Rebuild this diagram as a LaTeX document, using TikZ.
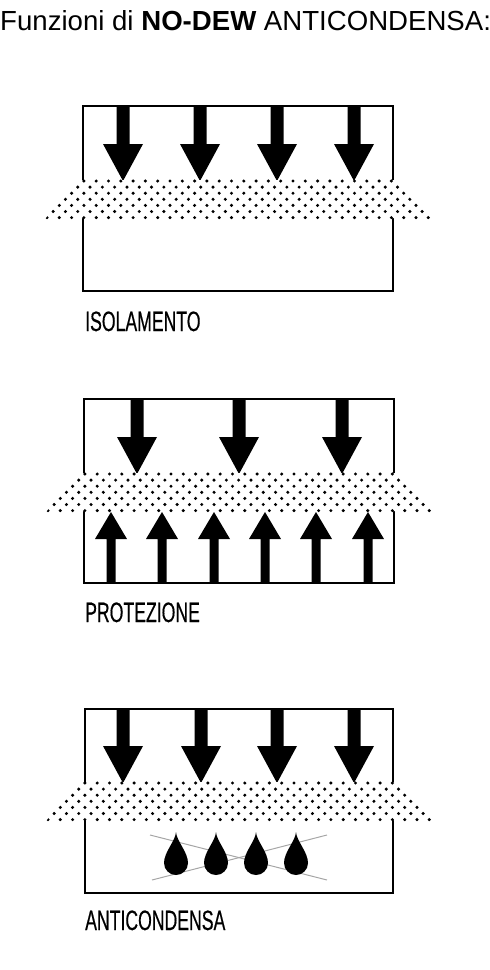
\documentclass[tikz,border=0pt]{standalone}
\usepackage{fontspec}
\setmainfont{Liberation Sans}
\newfontfamily\condfont[FakeStretch=0.63, FakeBold=0.4]{Liberation Sans}
\usetikzlibrary{positioning}

\begin{document}
\begin{tikzpicture}[x=1pt, y=-1pt,
    boxline/.style={line width=2.2pt},
    caption/.style={anchor=base west, inner sep=0pt, font=\condfont\fontsize{28}{32}\selectfont},
    fatdown/.pic={\fill (0,0) -- (-20,-37) -- (-6.5,-37) -- (-6.5,-75) -- (6.5,-75) -- (6.5,-37) -- (20,-37) -- cycle;},
    fatup/.pic={\fill (0,0) -- (-16,27) -- (-4.5,27) -- (-4.5,71) -- (4.5,71) -- (4.5,27) -- (16,27) -- cycle;},
    drop/.pic={\fill (0,-31) .. controls (0.5,-22) and (12,-11) .. (12,0)
        arc[start angle=0, end angle=180, radius=12]
        .. controls (-12,-11) and (-0.5,-22) .. (0,-31) -- cycle;},
    dotband/.pic={
        \fill[white] (-4,0) -- (314,0) -- (349,38) -- (-37,38) -- cycle;
        \begin{scope}
            \clip (-3,-1) -- (313,-1) -- (350,39) -- (-38,39) -- cycle;
            \foreach \j in {0,...,6} {
                \foreach \i in {0,...,33} {
                    \fill ({-36+\i*12.3+mod(\j,2)*6.15}, {1+\j*6.1}) circle (1.7);
                }
            }
        \end{scope}}]

    \useasboundingbox (0,0) rectangle (490,970);

    % ===== Title =====
    \node[anchor=base west, inner sep=0pt, font=\fontsize{27.6}{32}\selectfont] (title) at (0,30)
        {Funzioni di \textbf{NO-DEW} ANTICONDENSA:};

    % ===== Panel 1: Isolamento =====
    \draw[boxline] (83,106) rectangle (393,291);
    \foreach \x in {123, 200, 277, 354}
        \pic at (\x,181) {fatdown};
    \pic at (83,180) {dotband};
    \node[caption] (isolamento) at (85,331) {ISOLAMENTO};

    % ===== Panel 2: Protezione =====
    \draw[boxline] (84,399) rectangle (394,583);
    \foreach \x in {137, 239, 342}
        \pic at (\x,474) {fatdown};
    \foreach \x in {111, 162, 214, 265, 316, 368}
        \pic at (\x,512) {fatup};
    \pic at (84,473) {dotband};
    \node[caption] (protezione) at (85,622) {PROTEZIONE};

    % ===== Panel 3: Anticondensa =====
    \draw[boxline] (85,709) rectangle (393,893);
    \foreach \x in {123, 201, 277, 354}
        \pic at (\x,783) {fatdown};
    \pic at (84,782) {dotband};

    % crossed-out drops
    \draw[gray!70, line width=1pt] (150,835) -- (327,880);
    \draw[gray!70, line width=1pt] (152,880) -- (327,835);
    \foreach \x in {176, 216, 256, 296}
        \pic at (\x,863) {drop};
    \node[caption] (anticondensa) at (85,930) {ANTICONDENSA};

\end{tikzpicture}
\end{document}
